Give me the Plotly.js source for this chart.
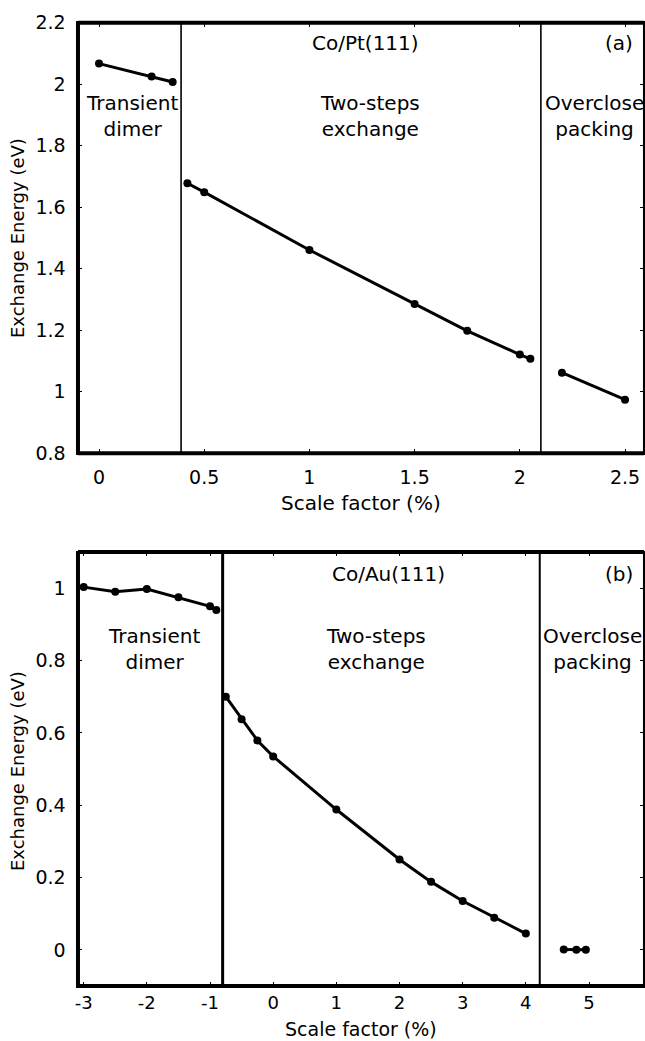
<!DOCTYPE html>
<html>
<head>
<meta charset="utf-8">
<script src="https://cdn.plot.ly/plotly-3.0.1.min.js"></script>
<style>html,body{margin:0;padding:0;background:#fff;}#chart{width:645px;height:1041px;}</style>
</head>
<body>
<div id="chart"></div>
<script>
// ---- Panel (a): Co/Pt(111) ----
const ptDimerX = [0, 0.25, 0.35];
const ptDimerY = [2.067, 2.025, 2.007];
const ptTwoStepX = [0.42, 0.5, 1.0, 1.5, 1.75, 2.0, 2.05];
const ptTwoStepY = [1.678, 1.649, 1.461, 1.285, 1.198, 1.121, 1.107];
const ptOverX = [2.2, 2.5];
const ptOverY = [1.062, 0.974];
const ptBounds = [0.39, 2.1];
const ptXTicks = [0, 0.5, 1, 1.5, 2, 2.5];
const ptXTickText = ["0", "0.5", "1", "1.5", "2", "2.5"];
const ptYTicks = [0.8, 1, 1.2, 1.4, 1.6, 1.8, 2, 2.2];
const ptYTickText = ["0.8", "1", "1.2", "1.4", "1.6", "1.8", "2", "2.2"];

// ---- Panel (b): Co/Au(111) ----
const auDimerX = [-3, -2.5, -2, -1.5, -1, -0.9];
const auDimerY = [1.003, 0.99, 0.998, 0.975, 0.95, 0.94];
const auTwoStepX = [-0.75, -0.5, -0.25, 0, 1, 2, 2.5, 3, 3.5, 4];
const auTwoStepY = [0.700, 0.638, 0.579, 0.535, 0.388, 0.250, 0.188, 0.135, 0.089, 0.045];
const auOverX = [4.6, 4.8, 4.95];
const auOverY = [0.001, 0.0, 0.0];
const auBounds = [-0.8, 4.22];
const auXTicks = [-3, -2, -1, 0, 1, 2, 3, 4, 5];
const auXTickText = ["-3", "-2", "-1", "0", "1", "2", "3", "4", "5"];
const auYTicks = [0, 0.2, 0.4, 0.6, 0.8, 1];
const auYTickText = ["0", "0.2", "0.4", "0.6", "0.8", "1"];

const regionLabels = ["Transient<br>dimer", "Two-steps<br>exchange", "Overclose<br>packing"];
const panelTitles = ["Co/Pt(111)", "Co/Au(111)"];
const panelTags = ["(a)", "(b)"];
const xTitle = "Scale factor (%)";
const yTitle = "Exchange Energy (eV)";

const FONT = "DejaVu Sans, Bitstream Vera Sans, sans-serif";
const TXT = 20, TICK = 19, XT = 20, YT = 18;

function seg(x, y, xa, ya) {
  return {x: x, y: y, xaxis: xa, yaxis: ya, type: 'scatter', mode: 'lines+markers',
    line: {color: '#000', width: 3}, marker: {color: '#000', size: 8}, showlegend: false,
    hoverinfo: 'skip'};
}

const data = [
  seg(ptDimerX, ptDimerY, 'x', 'y'),
  seg(ptTwoStepX, ptTwoStepY, 'x', 'y'),
  seg(ptOverX, ptOverY, 'x', 'y'),
  seg(auDimerX, auDimerY, 'x2', 'y2'),
  seg(auTwoStepX, auTwoStepY, 'x2', 'y2'),
  seg(auOverX, auOverY, 'x2', 'y2')
];

function axisBase(tick) {
  return {showline: true, linecolor: '#000', linewidth: 1.5, mirror: 'ticks',
    ticks: 'inside', ticklen: 4, tickwidth: 1, tickcolor: '#000',
    showgrid: false, zeroline: false, automargin: false,
    tickfont: {family: FONT, size: tick, color: '#000'}, tickmode: 'array'};
}

const xDom = [0.1209, 0.9984];
const xa = Object.assign(axisBase(TICK), {domain: xDom, anchor: 'y', range: [-0.1, 2.59],
  tickvals: ptXTicks, ticktext: ptXTickText, ticklabelstandoff: 6});
const ya = Object.assign(axisBase(TICK), {domain: [0.5646, 0.9782], anchor: 'x', range: [0.8, 2.2],
  tickvals: ptYTicks, ticktext: ptYTickText, ticklabelstandoff: 7});
const xa2 = Object.assign(axisBase(18), {domain: xDom, anchor: 'y2', range: [-3.09, 5.87],
  tickvals: auXTicks, ticktext: auXTickText, ticklabelstandoff: 0});
const ya2 = Object.assign(axisBase(TICK), {domain: [0.0528, 0.4697], anchor: 'x2', range: [-0.1, 1.1],
  tickvals: auYTicks, ticktext: auYTickText, ticklabelstandoff: 7});

function frame(xr, yr) {
  const b = {type: 'line', xref: xr + ' domain', yref: yr + ' domain', layer: 'above'};
  return [
    Object.assign({}, b, {x0: 0, x1: 0, y0: 0, y1: 1, line: {color: '#000', width: 4}}),
    Object.assign({}, b, {x0: 0, x1: 1, y0: 0, y1: 0, line: {color: '#000', width: 4}}),
    Object.assign({}, b, {x0: 0, x1: 1, y0: 1, y1: 1, line: {color: '#000', width: 4}}),
    Object.assign({}, b, {x0: 1, x1: 1, y0: 0, y1: 1, line: {color: '#000', width: 2}})
  ];
}
function vline(xr, yr, xv, w) {
  return {type: 'line', xref: xr, yref: yr + ' domain', x0: xv, x1: xv, y0: 0, y1: 1,
    line: {color: '#000', width: w}, layer: 'above'};
}

const shapes = [].concat(frame('x', 'y'), frame('x2', 'y2'),
  [vline('x', 'y', ptBounds[0], 1.6), vline('x', 'y', ptBounds[1], 1.6),
   vline('x2', 'y2', auBounds[0], 3), vline('x2', 'y2', auBounds[1], 2)]);

function ann(text, x, y, xr, yr, size, extra) {
  return Object.assign({text: text, x: x, y: y, xref: xr, yref: yr, showarrow: false,
    xanchor: 'center', yanchor: 'middle', font: {family: FONT, size: size, color: '#000'}}, extra || {});
}

const annotations = [
  ann(regionLabels[0], 0.155, 1.895, 'x', 'y', TXT),
  ann(regionLabels[1], 1.287, 1.895, 'x', 'y', TXT),
  ann(regionLabels[2], 2.355, 1.895, 'x', 'y', TXT),
  ann(panelTitles[0], 1.265, 2.133, 'x', 'y', TXT),
  ann(panelTags[0], 2.471, 2.133, 'x', 'y', TXT),
  ann(regionLabels[0], -1.88, 0.831, 'x2', 'y2', TXT),
  ann(regionLabels[1], 1.62, 0.831, 'x2', 'y2', TXT),
  ann(regionLabels[2], 5.06, 0.831, 'x2', 'y2', TXT),
  ann(panelTitles[1], 1.82, 1.04, 'x2', 'y2', TXT),
  ann(panelTags[1], 5.47, 1.04, 'x2', 'y2', TXT),
  ann(xTitle, 0.5597, 0.5168, 'paper', 'paper', XT),
  ann(xTitle, 0.5597, 0.0, 'paper', 'paper', 19, {yanchor: 'bottom', borderpad: 0}),
  ann(yTitle, 0.028, 0.7714, 'paper', 'paper', YT, {textangle: -90}),
  ann(yTitle, 0.028, 0.2594, 'paper', 'paper', YT, {textangle: -90})
];

const layout = {
  width: 645, height: 1041,
  margin: {l: 0, r: 0, t: 0, b: 0},
  paper_bgcolor: '#fff', plot_bgcolor: '#fff',
  font: {family: FONT, size: TXT, color: '#000'},
  showlegend: false,
  xaxis: xa, yaxis: ya, xaxis2: xa2, yaxis2: ya2,
  shapes: shapes,
  annotations: annotations
};

Plotly.newPlot('chart', data, layout, {staticPlot: true, displayModeBar: false});
</script>
</body>
</html>
